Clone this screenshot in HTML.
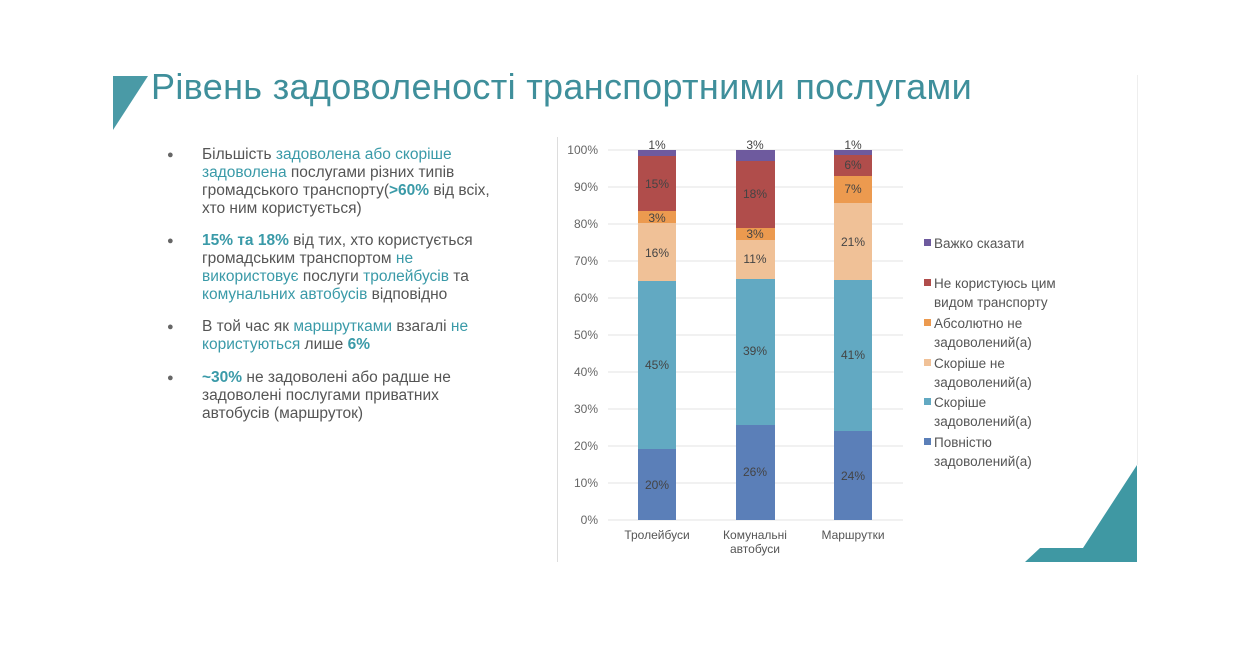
<!DOCTYPE html>
<html><head><meta charset="utf-8"><style>
body{margin:0;width:1237px;height:669px;background:#fff;position:relative;overflow:hidden;font-family:"Liberation Sans","DejaVu Sans",sans-serif}
.t{position:absolute;left:151px;top:66px;font-size:36px;color:#3f8f9b;white-space:nowrap;letter-spacing:0.33px}
.b{position:absolute;left:202px;font-size:15.5px;line-height:18px;color:#555;white-space:nowrap}
.b:before{content:"●";position:absolute;left:-35px;font-size:11px;color:#666}
.c{color:#3a9aa8}.k{color:#3a9aa8;font-weight:bold}
.lg{position:absolute;left:934px;font-size:13.5px;line-height:19px;color:#555}
.lg i{position:absolute;left:-10px;top:5px;width:7px;height:7px}
</style></head><body>
<svg width="1237" height="669" style="position:absolute;left:0;top:0">
<polygon points="113,76 148,76 113,130" fill="#4a9aa6"/>
<polygon points="1025,562 1040,548 1083,548 1137,465 1137,562" fill="#3f98a3"/>
<line x1="1137.5" y1="75" x2="1137.5" y2="465" stroke="#eee"/>
<line x1="557.5" y1="137" x2="557.5" y2="562" stroke="#ddd"/>
<g stroke="#e3e3e3">
<line x1="608" x2="903" y1="150" y2="150"/><line x1="608" x2="903" y1="187" y2="187"/><line x1="608" x2="903" y1="224" y2="224"/><line x1="608" x2="903" y1="261" y2="261"/><line x1="608" x2="903" y1="298" y2="298"/><line x1="608" x2="903" y1="335" y2="335"/><line x1="608" x2="903" y1="372" y2="372"/><line x1="608" x2="903" y1="409" y2="409"/><line x1="608" x2="903" y1="446" y2="446"/><line x1="608" x2="903" y1="483" y2="483"/><line x1="608" x2="903" y1="520" y2="520"/>
</g>
<g font-size="12" fill="#666" text-anchor="end">
<text x="598" y="154">100%</text><text x="598" y="191">90%</text><text x="598" y="228">80%</text><text x="598" y="265">70%</text><text x="598" y="302">60%</text><text x="598" y="339">50%</text><text x="598" y="376">40%</text><text x="598" y="413">30%</text><text x="598" y="450">20%</text><text x="598" y="487">10%</text><text x="598" y="524">0%</text>
</g>
<g>
<rect x="638" y="449" width="38" height="71" fill="#5b7fb8"/><rect x="638" y="281" width="38" height="168" fill="#62a9c2"/><rect x="638" y="223" width="38" height="58" fill="#f0c197"/><rect x="638" y="211" width="38" height="12" fill="#ec9a4f"/><rect x="638" y="156" width="38" height="55" fill="#b04d4b"/><rect x="638" y="150" width="38" height="6" fill="#6e5a9e"/>
<rect x="736" y="425" width="39" height="95" fill="#5b7fb8"/><rect x="736" y="279" width="39" height="146" fill="#62a9c2"/><rect x="736" y="240" width="39" height="39" fill="#f0c197"/><rect x="736" y="228" width="39" height="12" fill="#ec9a4f"/><rect x="736" y="161" width="39" height="67" fill="#b04d4b"/><rect x="736" y="150" width="39" height="11" fill="#6e5a9e"/>
<rect x="834" y="431" width="38" height="89" fill="#5b7fb8"/><rect x="834" y="280" width="38" height="151" fill="#62a9c2"/><rect x="834" y="203" width="38" height="77" fill="#f0c197"/><rect x="834" y="176" width="38" height="27" fill="#ec9a4f"/><rect x="834" y="155" width="38" height="21" fill="#b04d4b"/><rect x="834" y="150" width="38" height="5" fill="#6e5a9e"/>
</g>
<g font-size="12" fill="#444" text-anchor="middle">
<text x="657" y="149">1%</text><text x="657" y="188">15%</text><text x="657" y="222">3%</text><text x="657" y="257">16%</text><text x="657" y="369">45%</text><text x="657" y="489">20%</text>
<text x="755" y="149">3%</text><text x="755" y="198">18%</text><text x="755" y="238">3%</text><text x="755" y="263">11%</text><text x="755" y="355">39%</text><text x="755" y="476">26%</text>
<text x="853" y="149">1%</text><text x="853" y="169">6%</text><text x="853" y="193">7%</text><text x="853" y="246">21%</text><text x="853" y="359">41%</text><text x="853" y="480">24%</text>
</g>
<g font-size="12" fill="#555" text-anchor="middle">
<text x="657" y="539">Тролейбуси</text><text x="755" y="539">Комунальні</text><text x="755" y="553">автобуси</text><text x="853" y="539">Маршрутки</text>
</g>
</svg>
<div class="t">Рівень задоволеності транспортними послугами</div>
<div class="b" style="top:146px">Більшість <span class="c">задоволена або скоріше</span><br><span class="c">задоволена</span> послугами різних типів<br>громадського транспорту(<span class="k">&gt;60%</span> від всіх,<br>хто ним користується)</div>
<div class="b" style="top:232px"><span class="k">15% та 18%</span> від тих, хто користується<br>громадським транспортом <span class="c">не</span><br><span class="c">використовує</span> послуги <span class="c">тролейбусів</span> та<br><span class="c">комунальних автобусів</span> відповідно</div>
<div class="b" style="top:318px">В той час як <span class="c">маршрутками</span> взагалі <span class="c">не</span><br><span class="c">користуються</span> лише <span class="k">6%</span></div>
<div class="b" style="top:369px"><span class="k">~30%</span> не задоволені або радше не<br>задоволені послугами приватних<br>автобусів (маршруток)</div>
<div class="lg" style="top:234px"><i style="background:#6e5a9e"></i>Важко сказати</div>
<div class="lg" style="top:274px"><i style="background:#b04d4b"></i>Не користуюсь цим<br>видом транспорту</div>
<div class="lg" style="top:314px"><i style="background:#ec9a4f"></i>Абсолютно не<br>задоволений(а)</div>
<div class="lg" style="top:354px"><i style="background:#f0c197"></i>Скоріше не<br>задоволений(а)</div>
<div class="lg" style="top:393px"><i style="background:#62a9c2"></i>Скоріше<br>задоволений(а)</div>
<div class="lg" style="top:433px"><i style="background:#5b7fb8"></i>Повністю<br>задоволений(а)</div>
</body></html>
